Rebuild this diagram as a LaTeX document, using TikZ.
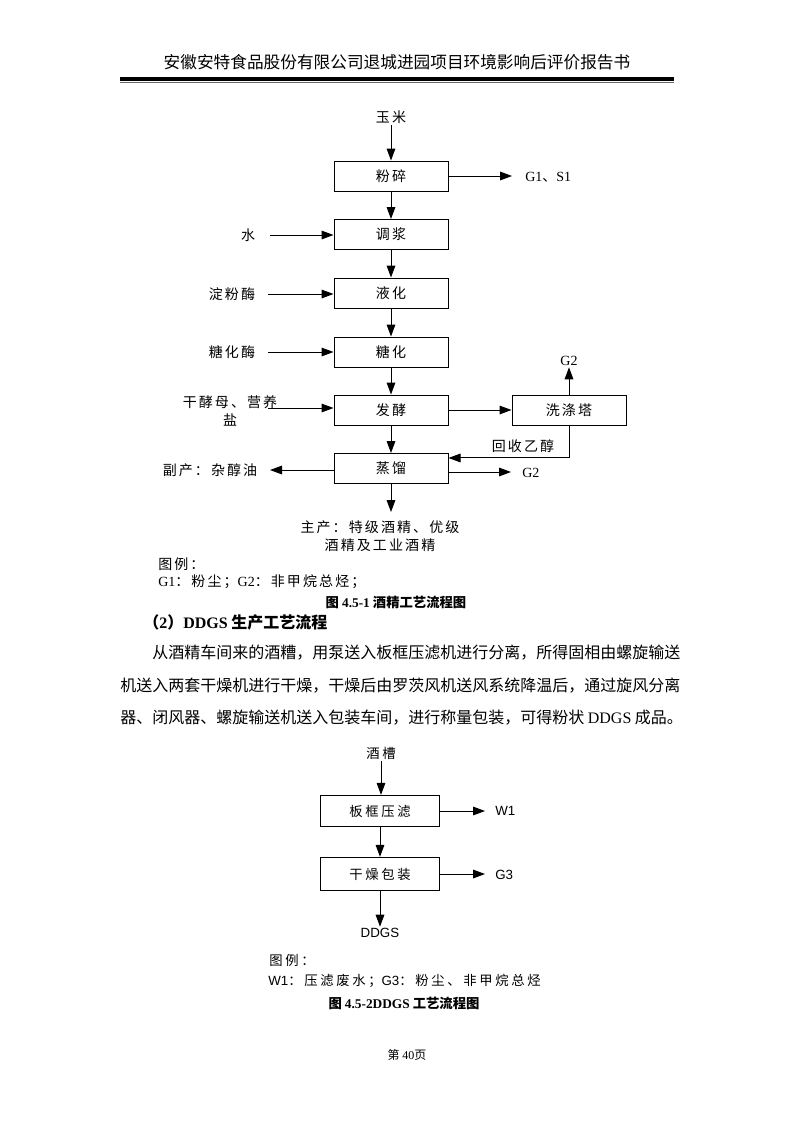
\documentclass[tikz,border=0pt]{standalone}
\usepackage{fontspec}
\setmainfont{Liberation Serif}
\setsansfont{Liberation Sans}
\newfontfamily\cjk{Noto Sans CJK SC}
\newfontfamily\cjkls[LetterSpace=15]{Noto Sans CJK SC}
\newfontfamily\cjkw[LetterSpace=20]{Noto Sans CJK SC}
\usetikzlibrary{arrows.meta}
\newcommand{\myzh}[1]{{\cjkls #1}}
\begin{document}
\begin{tikzpicture}[x=0.75pt,y=-0.75pt,
  box/.style={draw,line width=0.75pt,minimum width=85.5pt,minimum height=22.5pt,inner sep=0pt,font=\cjkls\fontsize{10.5pt}{13pt}\selectfont},
  boxb/.style={draw,line width=0.75pt,minimum width=89.25pt,minimum height=23.5pt,inner sep=0pt,font=\cjkw\fontsize{10pt}{12pt}\selectfont},
  arr/.style={line width=0.75pt,-{Triangle[length=9pt,width=6.5pt]}},
  lbl/.style={inner sep=1pt,font=\cjkls\fontsize{10.5pt}{14pt}\selectfont},
  lblb/.style={inner sep=1pt,font=\cjkw\fontsize{10pt}{12pt}\selectfont},
  para/.style={inner sep=0pt,anchor=west,font=\cjk\fontsize{12pt}{14pt}\selectfont},
  capt/.style={inner sep=0pt,font=\cjk\bfseries\fontsize{10pt}{12pt}\selectfont}
]
\useasboundingbox (0,0) rectangle (793,1122);
\fill[white] (0,0) rectangle (793,1122);

% header
\node[inner sep=0pt,font=\cjk\fontsize{12.5pt}{14pt}\selectfont] (hdr) at (397,62) {安徽安特食品股份有限公司退城进园项目环境影响后评价报告书};
\coordinate (hl1) at (120,79);
\coordinate (hr1) at (674,79);
\coordinate (hl2) at (120,82.5);
\coordinate (hr2) at (674,82.5);
\draw[line width=2.3pt] (hl1) -- (hr1);
\draw[line width=0.6pt,black!60] (hl2) -- (hr2);

% ===== flowchart 1 =====
\node[lbl] (ym) at (391,117) {玉米};
\node[box] (fs) at (391,176) {粉碎};
\node[box] (tj) at (391,234.5) {调浆};
\node[box] (yh) at (391,293) {液化};
\node[box] (th) at (391,352) {糖化};
\node[box] (fj) at (391,410) {发酵};
\node[box] (zl) at (391,468.5) {蒸馏};
\node[box] (xdt) at (569,410) {洗涤塔};

\node[lbl,anchor=west,inner sep=0pt] (g1s1) at (525,177) {{\rmfamily G1}、{\rmfamily S1}};
\node[lbl] (shui) at (248,235) {水};
\node[lbl] (dfm) at (232,294) {淀粉酶};
\node[lbl] (thm) at (232,352) {糖化酶};
\node[lbl,align=center] (gjm) at (230,411) {干酵母、营养\\盐};
\node[lbl] (fc) at (210,470) {副产：杂醇油};
\node[lbl,font=\rmfamily\fontsize{10.5pt}{12pt}\selectfont] (g2a) at (569,361) {G2};
\node[lbl] (hs) at (523,446) {回收乙醇};
\node[lbl,anchor=west,inner sep=0pt,font=\rmfamily\fontsize{10.5pt}{12pt}\selectfont] (g2b) at (522,473) {G2};
\node[lbl,align=center,font=\cjkls\fontsize{10.5pt}{13.5pt}\selectfont] (zc) at (380,536) {主产：特级酒精、优级\\酒精及工业酒精};

\coordinate (cshui) at (270,235);
\coordinate (cdfm) at (268,294);
\coordinate (cthm) at (268,352);
\coordinate (cgjm) at (268,408);
\coordinate (cfc) at (270,470);
\coordinate (cg1) at (512,176);
\coordinate (cg2) at (511,472);
\coordinate (czc) at (391,512);

\draw[arr] (ym) -- (fs);
\draw[arr] (fs) -- (tj);
\draw[arr] (tj) -- (yh);
\draw[arr] (yh) -- (th);
\draw[arr] (th) -- (fj);
\draw[arr] (fj) -- (zl);
\draw[arr] (fs.east) -- (cg1);
\draw[arr] (cshui) -- (cshui -| tj.west);
\draw[arr] (cdfm) -- (cdfm -| yh.west);
\draw[arr] (cthm) -- (cthm -| th.west);
\draw[arr] (cgjm) -- (cgjm -| fj.west);
\draw[arr] (fj) -- (xdt);
\draw[arr] (xdt) -- (g2a);
\draw[arr] (xdt.south) |- ([yshift=7.9pt]zl.east);
\draw[arr] (zl.west |- cfc) -- (cfc);
\draw[arr] (zl.east |- cg2) -- (cg2);
\draw[arr] (zl.south) -- (czc);

\node[lbl,anchor=west,inner sep=0pt] (tl1) at (158,564) {图例：};
\node[lbl,anchor=west,inner sep=0pt] (tl1b) at (158,582) {{\rmfamily G1}：粉尘；{\rmfamily G2}：非甲烷总烃；};
\node[capt] (cap1) at (396,602) {图 {\rmfamily 4.5-1} 酒精工艺流程图};

% ===== text =====
\node[para,font=\cjk\bfseries\fontsize{12pt}{14pt}\selectfont] (hd2) at (143,622) {（{\rmfamily 2}）{\rmfamily DDGS} 生产工艺流程};
\node[para] (p1) at (152,653) {从酒精车间来的酒糟，用泵送入板框压滤机进行分离，所得固相由螺旋输送};
\node[para] (p2) at (120,686) {机送入两套干燥机进行干燥，干燥后由罗茨风机送风系统降温后，通过旋风分离};
\node[para] (p3) at (120,718) {器、闭风器、螺旋输送机送入包装车间，进行称量包装，可得粉状 {\rmfamily DDGS} 成品。};

% ===== flowchart 2 =====
\node[lblb] (jc) at (381,753) {酒槽};
\node[boxb] (bk) at (380,811) {板框压滤};
\node[boxb,minimum height=25pt] (gz) at (380,874) {干燥包装};
\node[lblb,anchor=west,inner sep=0pt,font=\sffamily\fontsize{10pt}{12pt}\selectfont] (w1) at (495,811) {W1};
\node[lblb,anchor=west,inner sep=0pt,font=\sffamily\fontsize{10pt}{12pt}\selectfont] (g3) at (495,875) {G3};
\node[lblb,font=\sffamily\fontsize{10pt}{12pt}\selectfont] (ddgs) at (380,933) {DDGS};
\coordinate (cw1) at (485,811);
\coordinate (cg3) at (485,874);
\draw[arr] (jc) -- (jc |- bk.north);
\draw[arr] (bk) -- (gz);
\draw[arr] (bk.east) -- (cw1);
\draw[arr] (gz.east) -- (cg3);
\draw[arr] (gz) -- (ddgs);

\node[lblb,anchor=west,inner sep=0pt] (tl2) at (269,960) {图例：};
\node[lblb,anchor=west,inner sep=0pt] (tl2b) at (268,981) {{\sffamily W1}：压滤废水；{\sffamily G3}：粉尘、非甲烷总烃};
\node[capt] (cap2) at (404,1003) {图 {\rmfamily 4.5-2DDGS} 工艺流程图};

\node[inner sep=0pt,font=\cjk\fontsize{9pt}{11pt}\selectfont] (pg) at (407,1055) {第 {\rmfamily 40}页};
\end{tikzpicture}
\end{document}
